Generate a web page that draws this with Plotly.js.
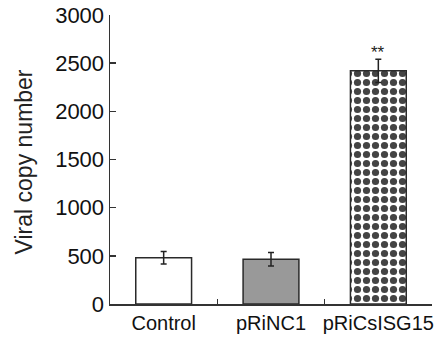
<!DOCTYPE html>
<html>
<head>
<meta charset="utf-8">
<script src="https://cdn.plot.ly/plotly-3.0.1.min.js"></script>
<style>html,body{margin:0;padding:0;background:#fff;}#chart{width:441px;height:343px;}</style>
</head>
<body>
<div id="chart"></div>
<script>
const categories = ["Control", "pRiNC1", "pRiCsISG15"];
const values = [480, 465, 2420];
const errors = [65, 70, 120];
const fills = ["#ffffff", "#999999", "#ffffff"];
const significance = ["", "", "**"];
const yTicks = [0, 500, 1000, 1500, 2000, 2500, 3000];
const yTitle = "Viral copy number";

const trace = {
  type: "bar",
  x: categories,
  y: values,
  width: 0.52,
  marker: {
    color: fills,
    line: {color: "#2a2a2a", width: 1.5},
    pattern: {
      shape: ["", "", "."],
      fgcolor: "#000000",
      fgopacity: 1,
      size: 9,
      solidity: 0.5,
      fillmode: "overlay"
    }
  },
  error_y: {type: "data", array: errors, visible: true, color: "#222222", thickness: 1.5, width: 3},
  hoverinfo: "none"
};

const annotations = categories.map((c, i) => ({
  x: c, y: values[i] + errors[i], xref: "x", yref: "y",
  text: significance[i], showarrow: false, yanchor: "bottom", yshift: -5,
  font: {family: "Liberation Sans, Arial, sans-serif", size: 17, color: "#222"}
})).filter(a => a.text);

annotations.push({
  text: yTitle, xref: "paper", yref: "paper", x: -0.267, y: 0.49,
  xanchor: "center", yanchor: "middle", textangle: -90, showarrow: false,
  font: {family: "Liberation Sans, Arial, sans-serif", size: 23, color: "#222"}
});

const layout = {
  width: 441, height: 343,
  margin: {l: 110, r: 9, t: 15, b: 39},
  paper_bgcolor: "#fff", plot_bgcolor: "#fff",
  showlegend: false,
  font: {family: "Liberation Sans, Arial, sans-serif", color: "#111"},
  xaxis: {
    type: "category", range: [-0.5, 2.5],
    showline: true, linecolor: "#333", linewidth: 1.5,
    ticks: "inside", ticklen: 5, tickcolor: "#333", tickwidth: 1.5,
    tickson: "boundaries", showgrid: false, zeroline: false,
    tickangle: 0,
    tickfont: {size: 20, color: "#111"}
  },
  yaxis: {
    range: [0, 3000], tickvals: yTicks,
    showline: true, linecolor: "#333", linewidth: 1.5,
    ticks: "inside", ticklen: 6, tickcolor: "#333", tickwidth: 1.5,
    showgrid: false, zeroline: false,
    tickfont: {size: 22, color: "#111"}
  },
  annotations: annotations
};

Plotly.newPlot("chart", [trace], layout, {staticPlot: true, displayModeBar: false});
</script>
</body>
</html>
